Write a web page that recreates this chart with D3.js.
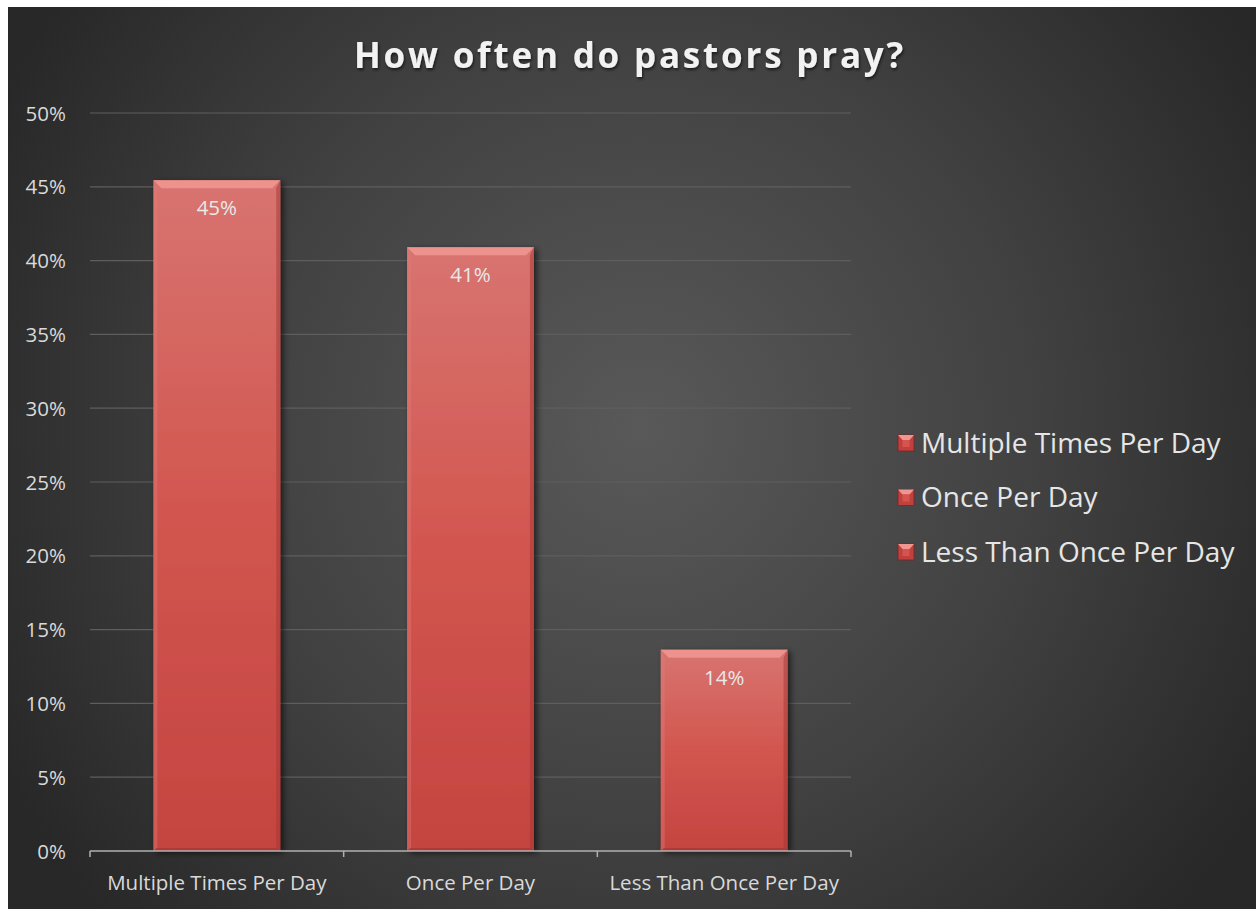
<!DOCTYPE html>
<html>
<head>
<meta charset="utf-8">
<script src="https://cdn.jsdelivr.net/npm/d3@7"></script>
<style>
  html, body { margin: 0; padding: 0; background: #ffffff; }
  svg { display: block; }
  text { font-family: "Open Sans", "Noto Sans", sans-serif; }
</style>
</head>
<body>
<svg id="chart" width="1259" height="909"></svg>
<script>
// Survey answers: share of pastors by prayer frequency
const categories = ["Multiple Times Per Day", "Once Per Day", "Less Than Once Per Day"];
const values = [0.4545, 0.4091, 0.1364];
const yTicks = [0, 0.05, 0.10, 0.15, 0.20, 0.25, 0.30, 0.35, 0.40, 0.45, 0.50];
const titleText = "How often do pastors pray?";

const svg = d3.select("#chart");
const frame = { x: 8, y: 7, w: 1248, h: 902 };
const plot = { left: 90, right: 851, top: 113, bottom: 851 };

const defs = svg.append("defs");

// background radial glow
const bg = defs.append("radialGradient").attr("id", "bgGrad")
  .attr("gradientUnits", "userSpaceOnUse")
  .attr("cx", 640).attr("cy", 430).attr("r", 720);
bg.append("stop").attr("offset", "0%").attr("stop-color", "#595959");
bg.append("stop").attr("offset", "55%").attr("stop-color", "#414141");
bg.append("stop").attr("offset", "100%").attr("stop-color", "#282828");

// bar fill
const barGrad = defs.append("linearGradient").attr("id", "barGrad")
  .attr("x1", 0).attr("y1", 0).attr("x2", 0).attr("y2", 1);
barGrad.append("stop").attr("offset", "0%").attr("stop-color", "#d87470");
barGrad.append("stop").attr("offset", "50%").attr("stop-color", "#d2564f");
barGrad.append("stop").attr("offset", "100%").attr("stop-color", "#c44440");

const shadow = defs.append("filter").attr("id", "barShadow")
  .attr("x", "-20%").attr("y", "-10%").attr("width", "150%").attr("height", "130%");
shadow.append("feDropShadow").attr("dx", 3).attr("dy", 2).attr("stdDeviation", 3)
  .attr("flood-color", "#000").attr("flood-opacity", 0.6);

const titleShadow = defs.append("filter").attr("id", "titleShadow");
titleShadow.append("feDropShadow").attr("dx", 1).attr("dy", 2).attr("stdDeviation", 1.5)
  .attr("flood-color", "#000").attr("flood-opacity", 0.6);

svg.append("rect")
  .attr("x", frame.x).attr("y", frame.y).attr("width", frame.w).attr("height", frame.h)
  .attr("fill", "url(#bgGrad)");

const x = d3.scaleBand()
  .domain(categories)
  .range([plot.left, plot.right])
  .paddingInner(0.5)
  .paddingOuter(0.25);

const y = d3.scaleLinear().domain([0, 0.5]).range([plot.bottom, plot.top]);

// gridlines
svg.append("g")
  .selectAll("line")
  .data(yTicks.filter(d => d > 0))
  .join("line")
  .attr("x1", plot.left).attr("x2", plot.right)
  .attr("y1", d => y(d)).attr("y2", d => y(d))
  .attr("stroke", "#5e5e5e").attr("stroke-width", 1.2);

// y axis labels
const yAxis = d3.axisLeft(y).tickValues(yTicks).tickFormat(d3.format(".0%")).tickSize(0).tickPadding(24);
const gy = svg.append("g").attr("transform", `translate(${plot.left},0)`).call(yAxis);
gy.select(".domain").remove();
gy.selectAll("text").attr("fill", "#d9d9d9").style("font-size", "20.5px")
  .attr("dy", "0.35em");

// bars
const bevel = 8;
const barG = svg.append("g").selectAll("g").data(categories).join("g");
barG.append("rect")
  .attr("x", d => x(d))
  .attr("y", (d, i) => y(values[i]))
  .attr("width", x.bandwidth())
  .attr("height", (d, i) => y(0) - y(values[i]))
  .attr("fill", "url(#barGrad)")
  .attr("filter", "url(#barShadow)");
// top bevel highlight
barG.append("path")
  .attr("d", (d, i) => {
    const x0 = x(d), x1 = x(d) + x.bandwidth(), t = y(values[i]);
    return `M${x0},${t}L${x1},${t}L${x1 - bevel},${t + bevel}L${x0 + bevel},${t + bevel}Z`;
  })
  .attr("fill", "#f29a94").attr("opacity", 0.8);
// left bevel
barG.append("path")
  .attr("d", (d, i) => {
    const x0 = x(d), t = y(values[i]), b = y(0);
    return `M${x0},${t}L${x0 + bevel / 2},${t + bevel}L${x0 + bevel / 2},${b - 3}L${x0},${b}Z`;
  })
  .attr("fill", "#e07d78").attr("opacity", 0.4);
// right bevel
barG.append("path")
  .attr("d", (d, i) => {
    const x1 = x(d) + x.bandwidth(), t = y(values[i]), b = y(0);
    return `M${x1},${t}L${x1 - bevel / 2},${t + bevel}L${x1 - bevel / 2},${b - 3}L${x1},${b}Z`;
  })
  .attr("fill", "#a33532").attr("opacity", 0.5);
// bottom bevel
barG.append("path")
  .attr("d", (d) => {
    const x0 = x(d), x1 = x(d) + x.bandwidth(), b = y(0);
    return `M${x0},${b}L${x1},${b}L${x1 - 3},${b - 3}L${x0 + 3},${b - 3}Z`;
  })
  .attr("fill", "#9e3330").attr("opacity", 0.6);

// data labels
barG.append("text")
  .attr("x", d => x(d) + x.bandwidth() / 2)
  .attr("y", (d, i) => y(values[i]) + 35)
  .attr("text-anchor", "middle")
  .attr("fill", "#e8e8e8")
  .style("font-size", "20.5px")
  .text((d, i) => d3.format(".0%")(values[i]));

// x axis
const xAxisLine = svg.append("g");
xAxisLine.append("line")
  .attr("x1", plot.left).attr("x2", plot.right)
  .attr("y1", plot.bottom).attr("y2", plot.bottom)
  .attr("stroke", "#b0b0b0").attr("stroke-width", 1.5);
const tickPos = categories.map(c => x(c) - x.step() * x.paddingInner() / 2);
tickPos.push(x(categories[categories.length - 1]) + x.bandwidth() + x.step() * x.paddingInner() / 2);
xAxisLine.selectAll("line.tick").data(tickPos).join("line")
  .attr("class", "tick")
  .attr("x1", d => d).attr("x2", d => d)
  .attr("y1", plot.bottom).attr("y2", plot.bottom + 6)
  .attr("stroke", "#b0b0b0").attr("stroke-width", 1.5);
xAxisLine.selectAll("text").data(categories).join("text")
  .attr("x", d => x(d) + x.bandwidth() / 2)
  .attr("y", 890)
  .attr("text-anchor", "middle")
  .attr("fill", "#d9d9d9")
  .style("font-size", "20.5px")
  .text(d => d);

// title
svg.append("text")
  .attr("x", 630).attr("y", 68)
  .attr("text-anchor", "middle")
  .attr("fill", "#f2f2f2")
  .attr("filter", "url(#titleShadow)")
  .style("font-size", "35px")
  .style("font-weight", "bold")
  .style("letter-spacing", "2.8px")
  .text(titleText);

// legend
const leg = svg.append("g").selectAll("g").data(categories).join("g")
  .attr("transform", (d, i) => `translate(898,${443 + i * 54.5})`);
leg.append("rect")
  .attr("x", 0).attr("y", -8).attr("width", 16).attr("height", 16)
  .attr("fill", "#c0403d").attr("stroke", "#7a2422").attr("stroke-width", 0.8);
leg.append("path")
  .attr("d", "M0,-8L16,-8L11.5,-3L4.5,-3Z")
  .attr("fill", "#f09590");
leg.append("path")
  .attr("d", "M4.5,-3L11.5,-3L11.5,4L4.5,4Z")
  .attr("fill", "#d6544e");
leg.append("text")
  .attr("x", 23).attr("y", 0)
  .attr("dy", "0.35em")
  .attr("fill", "#e6e6e6")
  .style("font-size", "28px")
  .text(d => d);
</script>
</body>
</html>
